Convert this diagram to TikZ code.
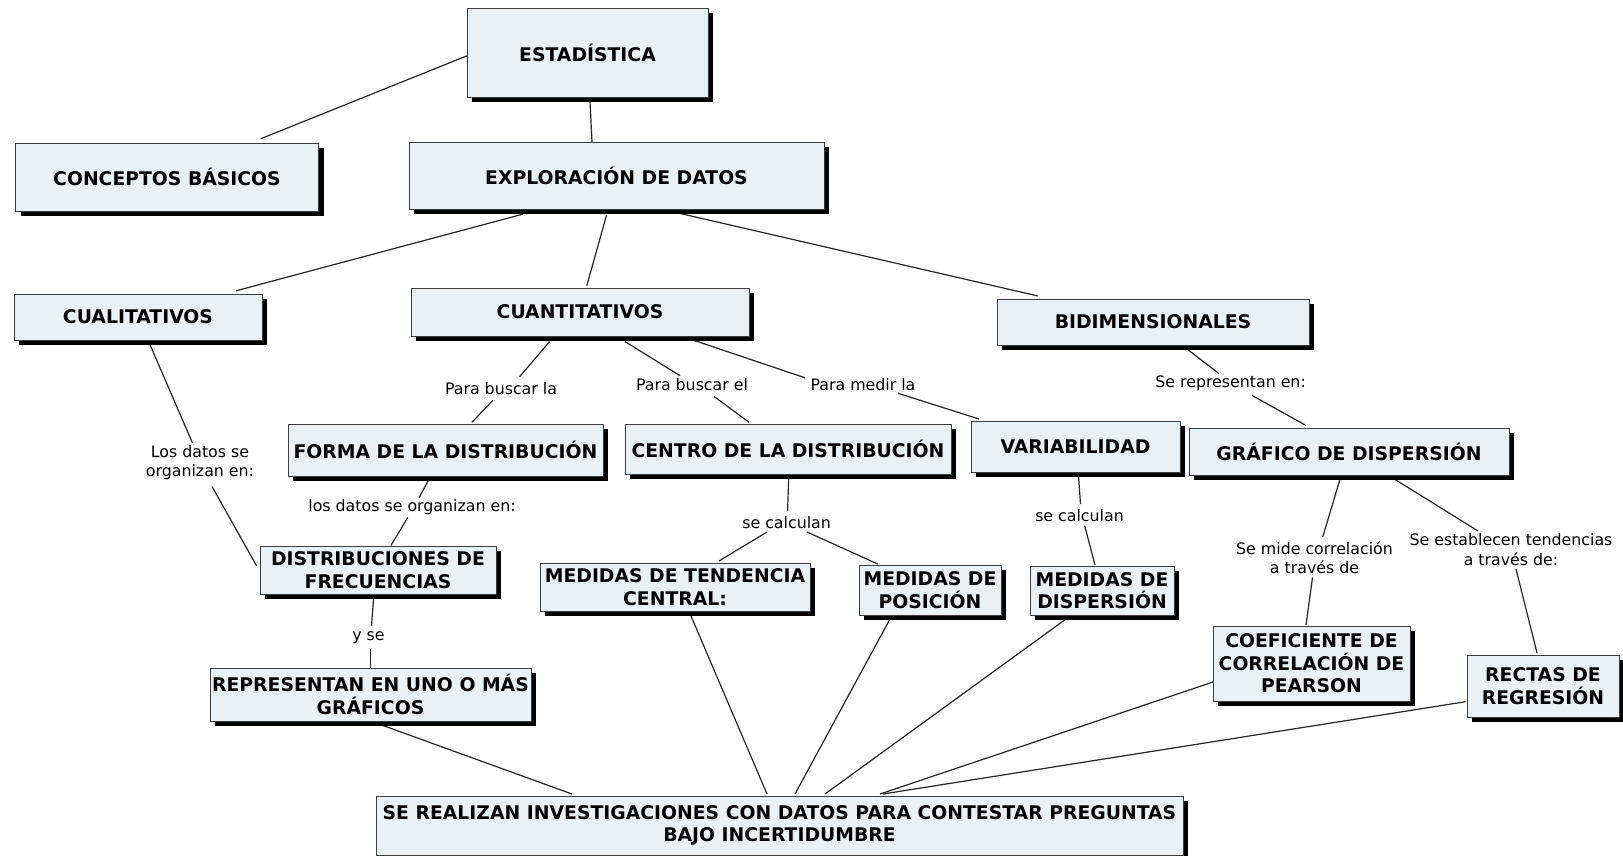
\documentclass[tikz,border=0pt]{standalone}
\usepackage{fontspec}
\setmainfont{DejaVu Sans}
\usetikzlibrary{shadows,backgrounds}
\definecolor{boxfill}{RGB}{234,241,244}
\definecolor{boxline}{RGB}{60,60,60}
\begin{document}
\begin{tikzpicture}[x=1pt,y=-1pt,
  concept/.style={draw=boxline, line width=0.9pt, fill=boxfill, align=center,
    font=\fontsize{18.8}{22.4}\selectfont\bfseries, inner sep=2pt,
    drop shadow={shadow xshift=5pt, shadow yshift=-5pt, fill=black, opacity=1}},
  sz/.style 2 args={minimum width=#1pt, minimum height=#2pt},
  link/.style={align=center, font=\fontsize{15.8}{19.5}\selectfont, inner sep=0pt},
  conn/.style={line width=1.2pt, draw=black!85}]
\useasboundingbox (0,0) rectangle (1623,856);

% concepts
\node[concept, sz={241}{89}] (est) at (587.5,52.5) {ESTADÍSTICA};
\node[concept, sz={303}{68}] (cb) at (167,177) {CONCEPTOS BÁSICOS};
\node[concept, sz={415}{67}] (exp) at (616.5,175.5) {EXPLORACIÓN DE DATOS};
\node[concept, sz={248}{46}] (cual) at (138,317) {CUALITATIVOS};
\node[concept, sz={338}{48}] (cuan) at (580,312) {CUANTITATIVOS};
\node[concept, sz={312}{46}] (bid) at (1153,322) {BIDIMENSIONALES};
\node[concept, sz={315}{52}] (forma) at (445.5,450) {FORMA DE LA DISTRIBUCIÓN};
\node[concept, sz={326}{50}] (centro) at (788,449) {CENTRO DE LA DISTRIBUCIÓN};
\node[concept, sz={209}{51}] (var) at (1075.5,446.5) {VARIABILIDAD};
\node[concept, sz={320}{47}] (graf) at (1349,451.5) {GRÁFICO DE DISPERSIÓN};
\node[concept, sz={236}{48}] (dist) at (378,570) {DISTRIBUCIONES DE\\FRECUENCIAS};
\node[concept, sz={270}{48}] (tend) at (675,587) {MEDIDAS DE TENDENCIA\\CENTRAL:};
\node[concept, sz={142}{50}] (pos) at (930,590) {MEDIDAS DE\\POSICIÓN};
\node[concept, sz={144}{49}] (disp) at (1102,590.5) {MEDIDAS DE\\DISPERSIÓN};
\node[concept, sz={197}{75}] (coef) at (1311.5,663.5) {COEFICIENTE DE\\CORRELACIÓN DE\\PEARSON};
\node[concept, sz={152}{62}] (rect) at (1543,686) {RECTAS DE\\REGRESIÓN};
\node[concept, sz={321}{53}] (rep) at (370.5,694.5) {REPRESENTAN EN UNO O MÁS\\GRÁFICOS};
\node[concept, sz={807}{59}] (se) at (779.5,825.5) {SE REALIZAN INVESTIGACIONES CON DATOS PARA CONTESTAR PREGUNTAS\\BAJO INCERTIDUMBRE};

% linking phrases
\node[link] (lpbla) at (501,389) {Para buscar la};
\node[link] (lpbel) at (692,385) {Para buscar el};
\node[link] (lpml) at (863,385) {Para medir la};
\node[link] (lsrep) at (1230.6,383) {Se representan en:};
\node[link] (lldse) at (200,462.6) {Los datos se\\organizan en:};
\node[link] (lldso) at (412,507) {los datos se organizan en:};
\node[link] (lsca) at (786.6,522.7) {se calculan};
\node[link] (lscb) at (1079.5,515.4) {se calculan};
\node[link] (lyse) at (368.5,637.6) {y se};
\node[link] (lsmc) at (1314.5,558) {Se mide correlación\\a través de};
\node[link] (lset) at (1511,549.6) {Se establecen tendencias\\a través de:};

\begin{scope}[on background layer]
\fill[white] (0,0) rectangle (1623,856);
\draw[conn] ([shift={(-120.7,3.4)}]est.center) -- ([shift={(93.8,-38.3)}]cb.center);
\draw[conn] ([shift={(2.5,49)}]est.center) -- ([shift={(-24.5,-33.7)}]exp.center);
\draw[conn] ([shift={(-93.8,38.7)}]exp.center) -- ([shift={(98,-26.2)}]cual.center);
\draw[conn] ([shift={(-10,39.8)}]exp.center) -- ([shift={(6.8,-26.3)}]cuan.center);
\draw[conn] ([shift={(62.5,37.7)}]exp.center) -- ([shift={(-115,-26)}]bid.center);
\draw[conn] ([shift={(-30.4,29.6)}]cuan.center) -- ([shift={(18.6,-12.3)}]lpbla.center);
\draw[conn] ([shift={(-8.3,11.5)}]lpbla.center) -- ([shift={(26.5,-27.7)}]forma.center);
\draw[conn] ([shift={(45,29.6)}]cuan.center) -- ([shift={(-12,-9.3)}]lpbel.center);
\draw[conn] ([shift={(22,11.4)}]lpbel.center) -- ([shift={(-39,-26.7)}]centro.center);
\draw[conn] ([shift={(111.4,27.5)}]cuan.center) -- ([shift={(-58,-7.2)}]lpml.center);
\draw[conn] ([shift={(35,8.3)}]lpml.center) -- ([shift={(-96.5,-27.5)}]var.center);
\draw[conn] ([shift={(35,27.8)}]bid.center) -- ([shift={(-11.6,-9.4)}]lsrep.center);
\draw[conn] ([shift={(21.4,12.4)}]lsrep.center) -- ([shift={(-43,-26)}]graf.center);
\draw[conn] ([shift={(12,27.7)}]cual.center) -- ([shift={(-7.5,-19.6)}]lldse.center);
\draw[conn] ([shift={(12,23.9)}]lldse.center) -- ([shift={(-121.3,-4)}]dist.center);
\draw[conn] ([shift={(-17,30.2)}]forma.center) -- ([shift={(7,-9.2)}]lldso.center);
\draw[conn] ([shift={(-4.2,10.5)}]lldso.center) -- ([shift={(13,-24.6)}]dist.center);
\draw[conn] ([shift={(-4.4,28)}]dist.center) -- ([shift={(3,-11.6)}]lyse.center);
\draw[conn] ([shift={(2,11.4)}]lyse.center) -- ([shift={(0,-27)}]rep.center);
\draw[conn] ([shift={(0.7,29)}]centro.center) -- ([shift={(1,-11.4)}]lsca.center);
\draw[conn] ([shift={(-19.6,9.3)}]lsca.center) -- ([shift={(44,-26)}]tend.center);
\draw[conn] ([shift={(20.4,9.3)}]lsca.center) -- ([shift={(-52.3,-26)}]pos.center);
\draw[conn] ([shift={(3,29.5)}]var.center) -- ([shift={(1,-11.4)}]lscb.center);
\draw[conn] ([shift={(5.2,10.4)}]lscb.center) -- ([shift={(-7,-25.5)}]disp.center);
\draw[conn] ([shift={(-9,27.7)}]graf.center) -- ([shift={(8.2,-21)}]lsmc.center);
\draw[conn] ([shift={(-2,19.5)}]lsmc.center) -- ([shift={(-5.5,-38.5)}]coef.center);
\draw[conn] ([shift={(44,26.7)}]graf.center) -- ([shift={(-33,-18.6)}]lset.center);
\draw[conn] ([shift={(5,19.5)}]lset.center) -- ([shift={(-6,-33)}]rect.center);
\draw[conn] ([shift={(12.5,31)}]rep.center) -- ([shift={(-207.5,-31.5)}]se.center);
\draw[conn] ([shift={(16,29)}]tend.center) -- ([shift={(-12.5,-31.5)}]se.center);
\draw[conn] ([shift={(-40,29)}]pos.center) -- ([shift={(15.5,-31.5)}]se.center);
\draw[conn] ([shift={(-36,28.5)}]disp.center) -- ([shift={(45.5,-31.5)}]se.center);
\draw[conn] ([shift={(-98.5,18.5)}]coef.center) -- ([shift={(100.5,-31.5)}]se.center);
\draw[conn] ([shift={(-77.4,15.7)}]rect.center) -- ([shift={(103.5,-31.5)}]se.center);
\end{scope}
\end{tikzpicture}
\end{document}
